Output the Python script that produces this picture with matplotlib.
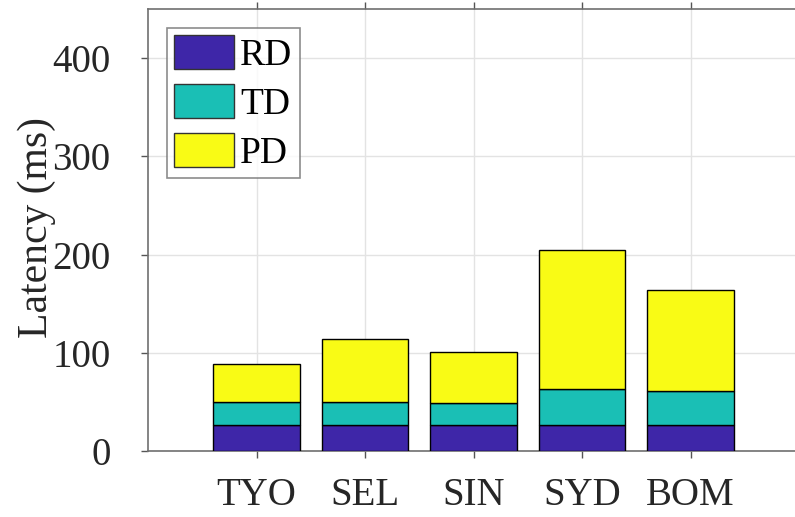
import numpy as np
import matplotlib
matplotlib.use("Agg")
import matplotlib.pyplot as plt

plt.rcParams['font.family'] = ['Liberation Serif', 'DejaVu Serif']

# data (ms)
sites = ['TYO', 'SEL', 'SIN', 'SYD', 'BOM']
rd = [26, 26, 26, 26, 26]
td = [23.5, 23.5, 22.5, 37.5, 35]
pd_ = [39.5, 65, 52, 141, 103]

col_rd = '#3e26a8'
col_td = '#1abfb5'
col_pd = '#f9fb15'

fig = plt.figure(figsize=(7.95, 5.17), dpi=100)
ax = fig.add_axes([148/795, 66/517, 651/795, 442/517])

x = np.arange(1, len(sites) + 1)
b1 = np.array(rd)
b2 = b1 + np.array(td)
ax.bar(x, rd, 0.8, color=col_rd, edgecolor='black', linewidth=1, label='RD', zorder=3)
ax.bar(x, td, 0.8, bottom=b1, color=col_td, edgecolor='black', linewidth=1, label='TD', zorder=3)
ax.bar(x, pd_, 0.8, bottom=b2, color=col_pd, edgecolor='black', linewidth=1, label='PD', zorder=3)

ax.set_xlim(0, 6)
ax.set_ylim(0, 450)
ax.set_xticks(x)
ax.set_xticklabels(sites)
ax.set_yticks([0, 100, 200, 300, 400])
ax.grid(True, color='#e3e3e3', linewidth=1, zorder=0)
ax.set_axisbelow(True)

for s in ax.spines.values():
    s.set_color('#707070')
    s.set_linewidth(1.2)

ax.tick_params(axis='both', direction='out', length=5, width=1, color='#555555',
               labelsize=28, labelcolor='#262626', top=True)
ax.tick_params(axis='y', pad=22)
ax.tick_params(axis='x', pad=14)
ax.set_ylabel('Latency (ms)', fontsize=30, color='#262626')
ax.yaxis.set_label_coords(-0.142, 0.505)

leg = ax.legend(loc='upper left', fontsize=27, frameon=True, fancybox=False,
                edgecolor='#707070', handlelength=1.6, handleheight=1.0,
                handletextpad=0.15, labelspacing=0.3, borderpad=0.2,
                borderaxespad=0.5)
leg.get_frame().set_linewidth(1.2)
for h in leg.legend_handles:
    h.set_edgecolor('#333333')

fig.savefig('out.png', dpi=100)
